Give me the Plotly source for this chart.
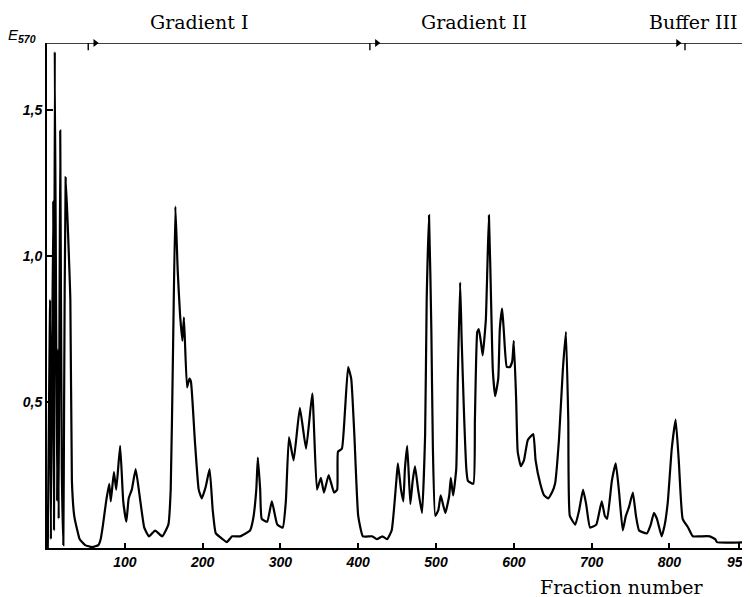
import plotly.graph_objects as go

# Fraction number and absorbance E570
fraction = [1, 4, 5, 8, 9, 10, 13, 14, 15, 17, 19, 21, 22, 24, 30, 32, 35, 39, 42, 49, 58, 66, 69,
            72, 76, 80, 82, 86, 89, 94, 98, 102, 105, 109, 114, 120, 125, 131, 139, 148, 156, 159, 162,
            165, 168, 171, 174, 176, 180, 183, 185, 190, 195, 199, 204, 209, 213, 217, 226, 231, 238,
            248, 261, 265, 269, 271, 274, 276, 283, 289, 296, 303, 307, 311, 317, 325, 333, 341, 347,
            352, 356, 362, 369, 373, 374, 379, 383, 387, 391, 395, 400, 406, 418, 424, 431, 437, 443,
            449, 451, 455, 458, 460, 463, 467, 470, 473, 477, 482, 486, 488, 491, 494, 496, 499, 503,
            506, 512, 517, 519, 522, 526, 528, 531, 533, 536, 539, 541, 548, 550, 553, 555, 558, 560,
            564, 566, 568, 571, 573, 576, 580, 582, 585, 587, 591, 595, 598, 600, 603, 605, 609, 613,
            618, 625, 628, 634, 639, 644, 649, 653, 658, 663, 667, 670, 672, 679, 684, 689, 693, 698,
            706, 713, 717, 720, 726, 731, 735, 740, 744, 748, 753, 757, 761, 771, 776, 780, 784, 790,
            794, 798, 803, 808, 812, 817, 824, 830, 839, 852, 859, 861, 900]
absorbance = [0.0, 0.85, 0.03, 1.19, 0.06, 1.70, 0.16, 0.68, 0.10, 1.43, 0.27, 0.01, 0.51, 1.27, 0.85,
              0.23, 0.11, 0.06, 0.03, 0.01, 0.003, 0.01, 0.03,
              0.08, 0.16, 0.22, 0.16, 0.26, 0.20, 0.35, 0.16, 0.09, 0.17, 0.20, 0.27, 0.16, 0.07, 0.04,
              0.06, 0.04, 0.08, 0.20, 0.68,
              1.17, 0.95, 0.80, 0.71, 0.79, 0.55, 0.58, 0.57, 0.37, 0.20, 0.17, 0.21, 0.27, 0.13, 0.05,
              0.03, 0.02, 0.04,
              0.04, 0.06, 0.10, 0.20, 0.31, 0.20, 0.10, 0.09, 0.16, 0.08, 0.07, 0.16, 0.38, 0.30, 0.48,
              0.34, 0.53, 0.20,
              0.24, 0.19, 0.25, 0.19, 0.20, 0.33, 0.34, 0.47, 0.62, 0.58, 0.39, 0.11, 0.04, 0.04, 0.03,
              0.04, 0.03, 0.06,
              0.23, 0.29, 0.20, 0.16, 0.27, 0.35, 0.15, 0.23, 0.28, 0.20, 0.12, 0.39, 0.85, 1.14, 0.75,
              0.34, 0.11, 0.13,
              0.18, 0.12, 0.18, 0.24, 0.18, 0.27, 0.58, 0.91, 0.71, 0.46, 0.27, 0.23, 0.22, 0.44, 0.74,
              0.75, 0.70, 0.66,
              0.78, 0.96, 1.14, 0.82, 0.61, 0.52, 0.58, 0.75, 0.82, 0.75, 0.62, 0.62, 0.64, 0.71, 0.51,
              0.33, 0.28, 0.30,
              0.37, 0.39, 0.30, 0.22, 0.18, 0.17, 0.19, 0.22, 0.37, 0.61, 0.74, 0.44, 0.11, 0.08, 0.13,
              0.20, 0.15, 0.07,
              0.08, 0.16, 0.11, 0.10, 0.23, 0.29, 0.20, 0.06, 0.11, 0.14, 0.19, 0.11, 0.06, 0.05, 0.08,
              0.12, 0.10, 0.04,
              0.08, 0.16, 0.34, 0.44, 0.30, 0.10, 0.07, 0.04, 0.04, 0.04, 0.03, 0.02, 0.02]

x_tick_vals = [100, 200, 300, 400, 500, 600, 700, 800, 889]
x_tick_text = ["100", "200", "300", "400", "500", "600", "700", "800", "950"]
y_tick_vals = [0.5, 1.0, 1.5]
y_tick_text = ["0,5", "1,0", "1,5"]

# Elution programme boundaries (fraction numbers) and labels
boundaries = [53, 415, 820]
phase_labels = ["Gradient I", "Gradient II", "Buffer III"]
phase_label_pos = [0.218, 0.609, 0.922]   # paper x

X_MAX = 901
Y_TOP = 1.73

fig = go.Figure()
fig.add_trace(go.Scatter(x=fraction, y=absorbance, mode="lines",
                         line=dict(color="black", width=2.2, shape="spline", smoothing=0.4),
                         showlegend=False, hoverinfo="skip"))

# Top programme bar with boundary marks and arrowheads
fig.add_trace(go.Scatter(x=[0, X_MAX], y=[Y_TOP, Y_TOP], mode="lines",
                         line=dict(color="black", width=1.6), showlegend=False,
                         cliponaxis=False, hoverinfo="skip"))
fig.add_trace(go.Scatter(x=[b + 9 for b in boundaries[:2]] + [boundaries[2] - 9],
                         y=[Y_TOP] * 3, mode="markers",
                         marker=dict(symbol="triangle-right", size=7, color="black"),
                         showlegend=False, cliponaxis=False, hoverinfo="skip"))

shapes = []
for b in boundaries:
    shapes.append(dict(type="line", xref="x", yref="y", x0=b, x1=b,
                       y0=Y_TOP - 0.025, y1=Y_TOP + 0.025,
                       line=dict(color="black", width=1.4)))

serif = dict(family="DejaVu Serif", size=19, color="black")
annotations = []
for lab, lx in zip(phase_labels, phase_label_pos):
    annotations.append(dict(x=lx, y=1.042, xref="paper", yref="paper", text=lab,
                            showarrow=False, font=serif, xanchor="center", yanchor="middle"))
annotations.append(dict(x=0.820, y=-0.077, xref="paper", yref="paper", text="Fraction number",
                        showarrow=False, font=serif, xanchor="center", yanchor="middle"))
annotations.append(dict(x=-0.036, y=1.015, xref="paper", yref="paper",
                        text="<i>E</i><sub><i><b>570</b></i></sub>", showarrow=False,
                        font=dict(family="Liberation Sans", size=15, color="black"),
                        xanchor="center", yanchor="middle"))

tickfont = dict(family="Liberation Sans", size=14, color="black", style="italic", weight="bold")
# The page body adds an 8 px offset, so the figure is sized to end at the window edge.
fig.update_layout(
    width=742, height=589,
    margin=dict(l=39, r=2, t=35, b=49, autoexpand=False),
    paper_bgcolor="white", plot_bgcolor="white",
    shapes=shapes, annotations=annotations,
    xaxis=dict(range=[0, X_MAX], tickvals=x_tick_vals, ticktext=x_tick_text,
               ticks="inside", ticklen=5, tickcolor="black", tickwidth=1.5,
               showline=True, linecolor="black", linewidth=2, showgrid=False,
               zeroline=False, automargin=False, ticklabeloverflow="allow",
               tickfont=tickfont),
    yaxis=dict(range=[0, Y_TOP], tickvals=y_tick_vals, ticktext=y_tick_text,
               ticks="inside", ticklen=6, tickcolor="black", tickwidth=1.5,
               showline=True, linecolor="black", linewidth=2, showgrid=False,
               zeroline=False, automargin=False, tickfont=tickfont),
)

fig.write_html("out.html")
